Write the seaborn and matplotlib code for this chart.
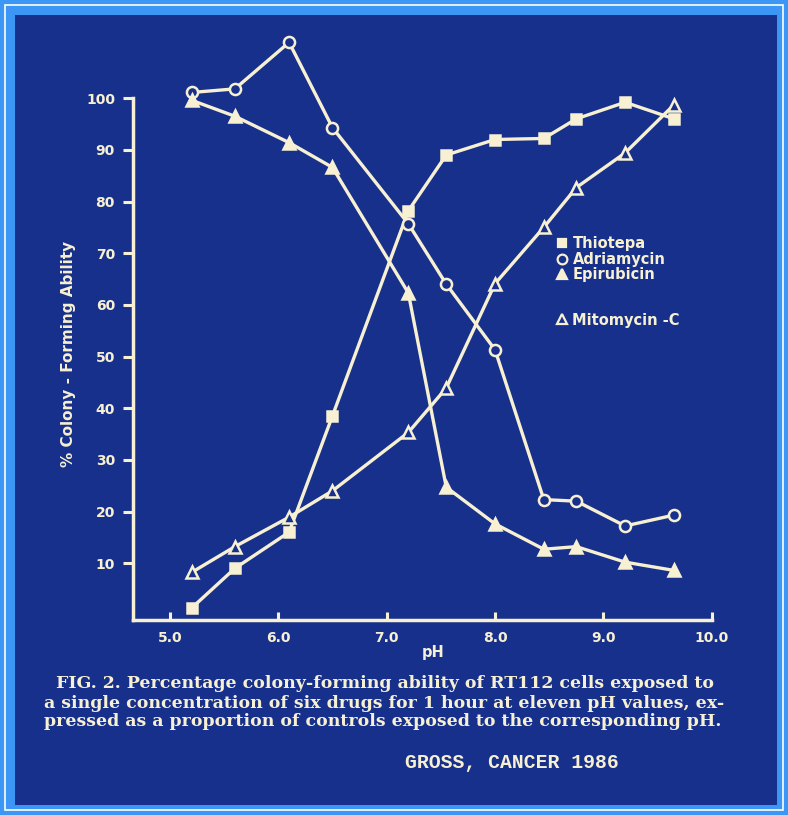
import matplotlib
matplotlib.use("Agg")
import matplotlib.pyplot as plt
from matplotlib.lines import Line2D
from matplotlib.patches import Rectangle
import pandas as pd
import seaborn as sns

# values
ph = [5.2, 5.6, 6.1, 6.5, 7.2, 7.55, 8.0, 8.45, 8.75, 9.2, 9.65]
thiotepa = [1.3, 9.0, 16.0, 38.5, 78.2, 89.0, 92.0, 92.2, 96.0, 99.2, 96.0]
adriamycin = [101.1, 101.8, 110.8, 94.3, 75.7, 64.0, 51.3, 22.3, 22.0, 17.2, 19.3]
epirubicin = [99.6, 96.5, 91.4, 86.6, 62.3, 24.7, 17.6, 12.7, 13.2, 10.2, 8.6]
mitomycin = [8.2, 13.2, 18.9, 24.0, 35.3, 43.9, 64.1, 75.0, 82.7, 89.4, 98.7]
drugs = ["Thiotepa", "Adriamycin", "Epirubicin", "Mitomycin -C"]
x_ticks = [5, 6, 7, 8, 9, 10]
x_ticklabels = ["5.0", "6.0", "7.0", "8.0", "9.0", "10.0"]
y_ticks = [10, 20, 30, 40, 50, 60, 70, 80, 90, 100]

caption = [
    "FIG. 2. Percentage colony-forming ability of RT112 cells exposed to",
    "a single concentration of six drugs for 1 hour at eleven pH values, ex-",
    "pressed as a proportion of controls exposed to the corresponding pH.",
]
credit = "GROSS, CANCER 1986"

navy = "#16308c"
frame = "#3c96f5"
cream = "#f8f0d2"

df = pd.DataFrame({
    "pH": ph * 4,
    "value": thiotepa + adriamycin + epirubicin + mitomycin,
    "drug": [d for d in drugs for _ in ph],
})

sns.set_style("ticks")
plt.rcParams["font.family"] = ["DejaVu Sans"]

W, H = 788, 815
fig = plt.figure(figsize=(W / 100, H / 100), dpi=100)
fig.patch.set_facecolor(frame)

# slide frame: thin white line + navy panel
fig.patches.append(Rectangle((5 / W, 5 / H), (W - 10) / W, (H - 10) / H, transform=fig.transFigure,
                             fill=False, edgecolor="white", linewidth=1.2, zorder=-2))
fig.patches.append(Rectangle((15 / W, 10 / H), (W - 26) / W, (H - 25) / H, transform=fig.transFigure,
                             facecolor=navy, edgecolor="none", zorder=-1))

ax = fig.add_axes([133 / W, 195 / H, (714 - 133) / W, (620 - 31) / H])
ax.set_zorder(2)
ax.set_facecolor("none")

styles = {
    "Thiotepa": dict(marker="s", mfc=cream, ms=7),
    "Adriamycin": dict(marker="o", mfc=navy, ms=8),
    "Epirubicin": dict(marker="^", mfc=cream, ms=8),
    "Mitomycin -C": dict(marker="^", mfc=navy, ms=8.5),
}
for drug in drugs:
    st = styles[drug]
    sns.lineplot(data=df[df["drug"] == drug], x="pH", y="value", ax=ax, color=cream,
                 linewidth=2.4, marker=st["marker"], markersize=st["ms"],
                 markerfacecolor=st["mfc"], markeredgecolor=cream, markeredgewidth=1.8,
                 legend=False)

ax.set_xlim(4.66, 10.02)
ax.set_ylim(-1, 113)
ax.set_xlabel("")
ax.set_ylabel("")
for s in ["top", "right"]:
    ax.spines[s].set_visible(False)
for s in ["left", "bottom"]:
    ax.spines[s].set_color(cream)
    ax.spines[s].set_linewidth(2.5)
ax.spines["left"].set_bounds(-1, 100)
ax.spines["bottom"].set_bounds(4.66, 10.0)

ax.set_xticks(x_ticks)
ax.set_xticklabels(x_ticklabels)
ax.set_yticks(y_ticks)
ax.tick_params(axis="x", direction="in", length=6, width=2.2, colors=cream, pad=8,
               labelsize=10)
ax.tick_params(axis="y", direction="out", length=7, width=2.2, colors=cream, pad=6,
               labelsize=10)
for lab in ax.get_xticklabels() + ax.get_yticklabels():
    lab.set_fontweight("bold")

# legend, as on the slide
def handle(drug):
    st = styles[drug]
    return Line2D([], [], linestyle="none", marker=st["marker"], markersize=st["ms"] - 1,
                  markerfacecolor=st["mfc"], markeredgecolor=cream, markeredgewidth=1.6)

leg_kw = dict(frameon=False, handlelength=0.7, handletextpad=0.35, labelspacing=0.05,
              borderpad=0, borderaxespad=0, labelcolor=cream,
              prop={"weight": "bold", "size": 10.5})
leg1 = ax.legend([handle(d) for d in drugs[:3]], drugs[:3], loc="upper left",
                 bbox_to_anchor=(0.730, 0.652), **leg_kw)
ax.add_artist(leg1)
ax.legend([handle(drugs[3])], drugs[3:], loc="upper left",
          bbox_to_anchor=(0.730, 0.522), **leg_kw)

fig.text(68 / W, 1 - 354 / H, "% Colony - Forming Ability", rotation=90, ha="center",
         va="center", color=cream, fontsize=11, fontweight="bold")
fig.text(433 / W, 1 - 653 / H, "pH", ha="center", va="center", color=cream,
         fontsize=10.5, fontweight="bold")

cap_x = [56, 44, 44]
cap_y = [684, 703, 721]
for txt, cx, cy in zip(caption, cap_x, cap_y):
    fig.text(cx / W, 1 - cy / H, txt, ha="left", va="center", color=cream,
             fontsize=12.5, fontweight="bold", family=["DejaVu Serif"])
fig.text(405 / W, 1 - 762 / H, credit, ha="left", va="center", color=cream,
         fontsize=14.2, fontweight="bold", family=["Liberation Mono"])

fig.savefig("out.png", dpi=100, facecolor=fig.get_facecolor())
